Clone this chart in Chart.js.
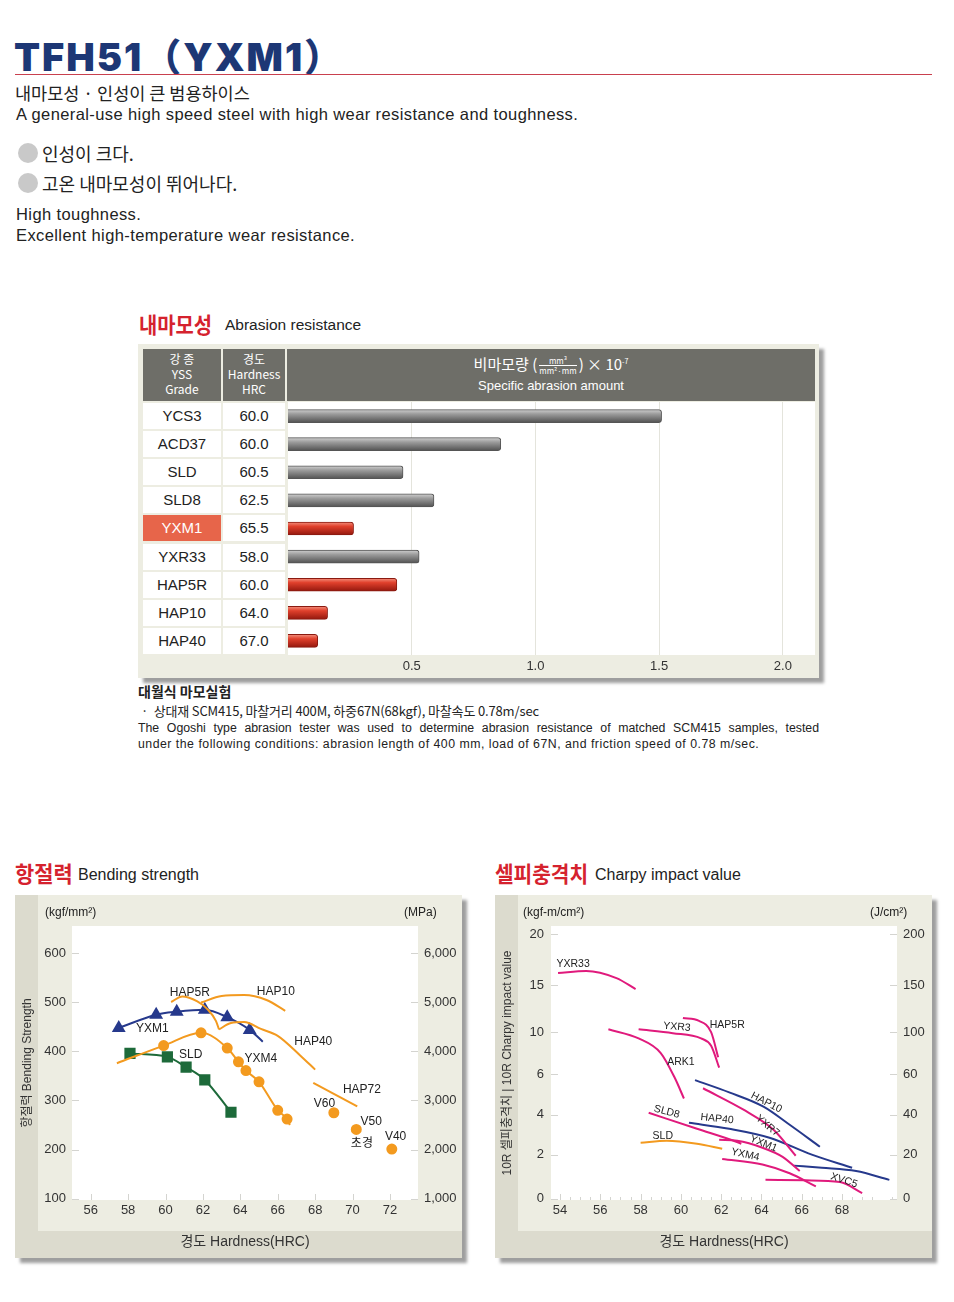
<!DOCTYPE html>
<html>
<head>
<meta charset="utf-8">
<script src="https://cdn.jsdelivr.net/npm/chart.js@4.4.1/dist/chart.umd.min.js"></script>
<style>
body{margin:0;background:#fff;width:954px;height:1302px;position:relative;overflow:hidden;
  font-family:"Liberation Sans",Arial,"Noto Sans CJK KR",sans-serif;color:#222}
.abs{position:absolute;white-space:nowrap}
.kr{font-family:"Noto Sans CJK KR","Liberation Sans",sans-serif}
.red{color:#d5222e;font-weight:700}
.en{font-size:16.5px;letter-spacing:0.4px}
.box{position:absolute;background:#edede2;box-shadow:5px 5px 3px rgba(0,0,0,0.38)}
.cell{position:absolute;background:#fff;text-align:center;font-size:15px;line-height:26px;height:26px}
.frac{display:inline-block;vertical-align:middle;font-size:8px;line-height:9px;text-align:center;margin:0 2px}
.frac span{display:block}
.frac span:first-child{border-bottom:1px solid #fff}
.bullet{position:absolute;width:20px;height:20px;border-radius:50%;background:#c9c9c9}
</style>
</head>
<body>

<div class="abs" style="left:14px;top:27px;font-family:Inter,'Noto Sans CJK KR',sans-serif;font-weight:900;font-size:38px;color:#1d3775;letter-spacing:2px">TFH51（YXM1）</div>
<div class="abs" style="left:15px;top:74px;width:917px;height:1px;background:#c9404e"></div>
<div class="abs kr" style="left:15px;top:80px;font-size:17.5px">내마모성 · 인성이 큰 범용하이스</div>
<div class="abs en" style="left:16px;top:105px">A general-use high speed steel with high wear resistance and toughness.</div>
<div class="bullet" style="left:18px;top:143px"></div>
<div class="abs kr" style="left:42px;top:140px;font-size:18px">인성이 크다.</div>
<div class="bullet" style="left:18px;top:173px"></div>
<div class="abs kr" style="left:42px;top:170px;font-size:18px">고온 내마모성이 뛰어나다.</div>
<div class="abs en" style="left:16px;top:205px">High toughness.</div>
<div class="abs en" style="left:16px;top:226px">Excellent high-temperature wear resistance.</div>

<!-- abrasion resistance -->
<div class="abs kr red" style="left:139px;top:307px;font-size:22px;transform:scaleX(0.9);transform-origin:left">내마모성</div>
<div class="abs" style="left:225px;top:316px;font-size:15.5px">Abrasion resistance</div>
<div class="box" style="left:138px;top:344px;width:681px;height:334px"></div>
<div class="abs" style="left:143px;top:349px;width:672px;height:52px;background:#6e6e68"></div>
<div class="abs" style="left:221px;top:349px;width:2px;height:52px;background:#edede2"></div>
<div class="abs" style="left:285px;top:349px;width:2px;height:52px;background:#edede2"></div>
<div class="abs kr" style="left:143px;top:351px;width:78px;text-align:center;color:#fff;font-size:12px;line-height:15px">강 종<br>YSS<br>Grade</div>
<div class="abs kr" style="left:223px;top:351px;width:62px;text-align:center;color:#fff;font-size:12px;line-height:15px">경도<br>Hardness<br>HRC</div>
<div class="abs kr" style="left:287px;top:353px;width:528px;text-align:center;color:#fff;font-size:15px">비마모량 (<span class="frac"><span>mm³</span><span>mm²·mm</span></span>) × 10<sup style="font-size:7px">-7</sup></div>
<div class="abs" style="left:287px;top:378px;width:528px;text-align:center;color:#fff;font-size:13px">Specific abrasion amount</div>
<div id="cells"></div>
<div class="abs" style="left:288px;top:402px;width:527px;height:273px"><canvas id="abr"></canvas></div>

<div class="abs kr" style="left:138px;top:681px;font-size:14px;font-weight:700">대월식 마모실험</div>
<div class="abs kr" style="left:141px;top:701px;font-size:13px;letter-spacing:-0.15px">·&nbsp; 상대재 SCM415, 마찰거리 400M, 하중67N(68kgf), 마찰속도 0.78m/sec</div>
<div class="abs" style="left:138px;top:721px;width:681px;font-size:12.3px;white-space:normal;text-align:justify;text-align-last:justify">The Ogoshi type abrasion tester was used to determine abrasion resistance of matched SCM415 samples, tested</div>
<div class="abs" style="left:138px;top:737px;font-size:12.3px;letter-spacing:0.5px">under the following conditions: abrasion length of 400 mm, load of 67N, and friction speed of 0.78 m/sec.</div>

<!-- bending strength -->
<div class="abs kr red" style="left:15px;top:856px;font-size:22px;transform:scaleX(0.95);transform-origin:left">항절력</div>
<div class="abs" style="left:78px;top:866px;font-size:16px">Bending strength</div>
<div class="box" style="left:15px;top:895px;width:447px;height:363px"></div>
<div class="abs" style="left:15px;top:895px;width:447px;height:363px"><canvas id="bend"></canvas></div>
<div class="abs" style="left:45px;top:905px;font-size:12px">(kgf/mm²)</div>
<div class="abs" style="left:404px;top:905px;font-size:12px">(MPa)</div>

<!-- charpy impact value -->
<div class="abs kr red" style="left:495px;top:856px;font-size:22px;transform:scaleX(0.92);transform-origin:left">셀피충격치</div>
<div class="abs" style="left:595px;top:866px;font-size:16px">Charpy impact value</div>
<div class="box" style="left:495px;top:895px;width:437px;height:363px"></div>
<div class="abs" style="left:495px;top:895px;width:437px;height:363px"><canvas id="charpy"></canvas></div>
<div class="abs" style="left:523px;top:905px;font-size:12px">(kgf-m/cm²)</div>
<div class="abs" style="left:870px;top:905px;font-size:12px">(J/cm²)</div>

<script>
// ---- abrasion resistance ----
const grades = ['YCS3', 'ACD37', 'SLD', 'SLD8', 'YXM1', 'YXR33', 'HAP5R', 'HAP10', 'HAP40'];
const hardnessHRC = ['60.0', '60.0', '60.5', '62.5', '65.5', '58.0', '60.0', '64.0', '67.0'];
const abrasion = [1.51, 0.86, 0.465, 0.59, 0.265, 0.53, 0.44, 0.16, 0.12];
const highlighted = ['YXM1', 'HAP5R', 'HAP10', 'HAP40'];
const abrasionTicks = [0.5, 1.0, 1.5, 2.0];

// ---- bending strength: [HRC, kgf/mm2] ----
const bendHrcTicks = [56, 58, 60, 62, 64, 66, 68, 70, 72];
const bendKgfTicks = [100, 200, 300, 400, 500, 600];
const bendYXM1 = [[57.5, 448], [59.5, 475], [60.6, 481], [62.1, 485], [63.3, 470], [64.5, 444], [65.2, 420]];
const bendSLD = [[58.1, 396], [60.1, 389], [61.1, 368], [62.1, 342], [63.5, 276]];
const bendYXM4 = [[57.4, 376], [59.9, 412], [61.9, 438], [63.3, 407], [63.9, 379], [64.3, 361], [65.0, 338], [66.0, 280], [66.5, 262], [66.65, 250]];
const bendHAP5R = [[60.3, 501], [60.9, 512], [61.7, 502], [62.25, 486], [62.7, 462], [62.86, 445]];
const bendHAP10 = [[61.9, 500], [63.0, 513], [64.2, 515], [65.4, 505], [66.4, 483]];
const bendHAP40 = [[62.86, 445], [63.5, 458], [64.2, 460], [65.1, 446], [66.0, 432], [67.2, 392], [68.0, 363]];
const bendHAP72 = [[67.9, 336], [70.25, 288]];
const bendCarbide = [[69.0, 275], [70.2, 241], [72.1, 201]];  // V60, V50, V40

// ---- charpy impact: [HRC, kgf-m/cm2] ----
const charpyHrcTicks = [54, 56, 58, 60, 62, 64, 66, 68];
const charpyKgfTicks = [0, 2, 4, 6, 10, 15, 20];
const charpyYXR33 = [[53.9, 16.2], [55.3, 16.4], [56.8, 15.7], [57.75, 14.6]];
const charpyHAP5R = [[60.1, 11.5], [60.9, 11.2], [61.5, 10.0], [61.85, 7.6]];
const charpyYXR3 = [[57.9, 10.3], [59.6, 9.9], [61.0, 9.4], [61.5, 8.7], [61.9, 6.6]];
const charpyARK1 = [[56.4, 10.3], [57.9, 9.4], [59.0, 8.0], [59.7, 5.8], [60.15, 4.8]];
const charpyHAP10 = [[60.7, 5.7], [62.4, 5.1], [64.1, 4.4], [65.4, 3.5], [66.9, 2.4]];
const charpyYXR7 = [[61.1, 5.3], [63.2, 4.2], [64.6, 3.25], [65.7, 1.95]];
const charpyHAP40 = [[60.4, 3.6], [62.4, 3.3], [64.4, 2.85], [66.5, 2.0], [68.5, 1.4]];
const charpySLD8 = [[58.4, 4.1], [60.8, 3.3], [62.75, 2.65], [63.0, 2.55]];
const charpyYXM1 = [[61.9, 2.75], [62.8, 2.7], [64.05, 2.35], [65.05, 1.9], [65.9, 1.25]];
const charpyYXM4 = [[62.05, 1.8], [64.05, 1.55], [65.4, 1.15], [66.7, 0.55]];
const charpySLD = [[58.0, 2.6], [59.3, 2.7], [60.8, 2.55], [62.05, 2.3]];
const charpyXVC5 = [[64.2, 0.85], [66.2, 0.83], [67.9, 0.75], [69.0, 0.25]];
const charpyOther = [[65.6, 1.5], [67.0, 1.4], [68.7, 1.25], [70.35, 0.85]];

Chart.defaults.font.family = '"Liberation Sans", Arial, "Noto Sans CJK KR", sans-serif';
Chart.defaults.color = '#333';

// table cells on the left of the bars
const cells = document.getElementById('cells');
grades.forEach((g, i) => {
	const top = 402 + 14.05 + i * 28.1 - 13;
	const hot = g === 'YXM1';
	cells.innerHTML += '<div class="cell" style="left:143px;top:' + top + 'px;width:78px;' +
		(hot ? 'background:#e7654a;color:#fff' : '') + '">' + g + '</div>' +
		'<div class="cell" style="left:223px;top:' + top + 'px;width:62px">' + hardnessHRC[i] + '</div>';
});

const whiteArea = {
	id: 'whiteArea',
	beforeDraw(chart) {
		const a = chart.chartArea;
		chart.ctx.save();
		chart.ctx.fillStyle = '#fff';
		chart.ctx.fillRect(a.left, a.top, a.right - a.left, a.bottom - a.top);
		chart.ctx.restore();
	}
};

function barFill(ctx) {
	const chart = ctx.chart;
	const hot = highlighted.includes(grades[ctx.dataIndex]);
	const y = chart.scales.y;
	const c = y ? y.getPixelForValue(ctx.dataIndex) : NaN;
	if (!isFinite(c)) return hot ? '#d3301f' : '#8a8a8a';
	const g = chart.ctx.createLinearGradient(0, c - 7, 0, c + 7);
	if (hot) {
		g.addColorStop(0, '#f59a88');
		g.addColorStop(0.35, '#e0402c');
		g.addColorStop(1, '#8e150c');
	} else {
		g.addColorStop(0, '#d6d6d6');
		g.addColorStop(0.35, '#9c9c9c');
		g.addColorStop(1, '#4e4e4e');
	}
	return g;
}

new Chart(document.getElementById('abr'), {
	type: 'bar',
	data: {
		labels: grades,
		datasets: [{
			data: abrasion,
			backgroundColor: barFill,
			borderColor: ctx => highlighted.includes(grades[ctx.dataIndex]) ? '#8a1a10' : '#555',
			borderWidth: 1,
			borderSkipped: 'start',
			borderRadius: 3,
			barThickness: 13
		}]
	},
	options: {
		indexAxis: 'y',
		responsive: true,
		maintainAspectRatio: false,
		animation: false,
		layout: { padding: 0 },
		plugins: { legend: { display: false }, tooltip: { enabled: false } },
		scales: {
			x: {
				min: 0, max: 2.13,
				afterBuildTicks: s => { s.ticks = abrasionTicks.map(v => ({ value: v })); },
				afterFit: s => { s.height = 20; },
				grid: { color: '#e4e4dc', drawTicks: false },
				border: { display: false },
				ticks: { padding: 4, font: { size: 13 }, color: '#333', callback: v => v.toFixed(1) }
			},
			y: { display: false }
		}
	},
	plugins: [whiteArea]
});

// ---- shared pieces for the two line charts ----
function frame(bottomStrip) {
	return {
		id: 'frame',
		beforeDraw(chart) {
			const { ctx, width, height, chartArea: a } = chart;
			ctx.save();
			ctx.fillStyle = '#edede2';
			ctx.fillRect(0, 0, width, height);
			ctx.fillStyle = '#dcdbce';
			ctx.fillRect(0, 0, 23, height);
			ctx.fillRect(23, bottomStrip, width - 23, height - bottomStrip);
			ctx.fillStyle = '#fff';
			ctx.fillRect(a.left, a.top, a.right - a.left, a.bottom - a.top);
			ctx.restore();
		}
	};
}

function innerTicks(xMajor, xMinor, yMajor) {
	return {
		id: 'innerTicks',
		beforeDatasetsDraw(chart) {
			const { ctx, chartArea: a, scales: { x, y } } = chart;
			ctx.save();
			ctx.strokeStyle = '#d4d4d0';
			ctx.lineWidth = 1;
			ctx.beginPath();
			yMajor.forEach(v => {
				const py = Math.round(y.getPixelForValue(v)) + 0.5;
				ctx.moveTo(a.left, py); ctx.lineTo(a.left + 7, py);
				ctx.moveTo(a.right - 7, py); ctx.lineTo(a.right, py);
			});
			xMajor.forEach(v => {
				const px = Math.round(x.getPixelForValue(v)) + 0.5;
				ctx.moveTo(px, a.bottom); ctx.lineTo(px, a.bottom - 6);
			});
			xMinor.forEach(v => {
				const px = Math.round(x.getPixelForValue(v)) + 0.5;
				ctx.moveTo(px, a.bottom); ctx.lineTo(px, a.bottom - 3);
			});
			ctx.stroke();
			ctx.restore();
		}
	};
}

function curveLabels(items, font) {
	return {
		id: 'curveLabels',
		afterDatasetsDraw(chart) {
			const { ctx, scales: { x, y } } = chart;
			ctx.save();
			ctx.fillStyle = '#222';
			ctx.font = font;
			ctx.textAlign = 'center';
			ctx.textBaseline = 'middle';
			items.forEach(([t, hx, v, deg]) => {
				ctx.save();
				ctx.translate(x.getPixelForValue(hx), y.getPixelForValue(v));
				ctx.rotate((deg || 0) * Math.PI / 180);
				ctx.fillText(t, 0, 0);
				ctx.restore();
			});
			ctx.restore();
		}
	};
}

const pts = arr => arr.map(([x, y]) => ({ x: x, y: y }));
const ORANGE = '#f39a1f', BLUE = '#26398c', GREEN = '#1d6a3a', PINK = '#e01a7c';
const noGrid = { display: false, drawTicks: false };

function curve(data, color, extra) {
	return Object.assign({
		data: data, borderColor: color, backgroundColor: color, borderWidth: 2,
		pointRadius: 0, cubicInterpolationMode: 'monotone', fill: false
	}, extra || {});
}

// ---- bending strength chart ----
new Chart(document.getElementById('bend'), {
	type: 'line',
	data: {
		datasets: [
			curve(pts(bendHAP5R), ORANGE),
			curve(pts(bendHAP10), ORANGE),
			curve(pts(bendHAP40), ORANGE),
			curve(pts(bendHAP72), ORANGE),
			curve(pts(bendYXM4), ORANGE, { pointStyle: 'circle', pointRadius: c => (c.dataIndex === 0 || c.dataIndex === bendYXM4.length - 1) ? 0 : 4.5 }),
			curve(pts(bendSLD), GREEN, { pointStyle: 'rect', pointRadius: 6.5 }),
			curve(pts(bendYXM1), BLUE, { pointStyle: 'triangle', pointRadius: c => c.dataIndex === bendYXM1.length - 1 ? 0 : 6 }),
			curve(pts(bendCarbide), ORANGE, { showLine: false, pointRadius: 4.5 })
		]
	},
	options: {
		responsive: true,
		maintainAspectRatio: false,
		animation: false,
		layout: { padding: { top: 31 } },
		plugins: { legend: { display: false }, tooltip: { enabled: false } },
		scales: {
			x: {
				type: 'linear', min: 55, max: 73.5,
				afterBuildTicks: s => { s.ticks = bendHrcTicks.map(v => ({ value: v })); },
				afterFit: s => { s.height = 58; },
				grid: noGrid, border: { display: false },
				ticks: { padding: 3, font: { size: 13 }, color: '#333' },
				title: { display: true, text: '경도 Hardness(HRC)', font: { size: 14 }, color: '#333', padding: { bottom: 7 } }
			},
			y: {
				min: 97, max: 656,
				afterBuildTicks: s => { s.ticks = bendKgfTicks.map(v => ({ value: v })); },
				afterFit: s => { s.width = 57; },
				grid: noGrid, border: { display: false },
				ticks: { padding: 6, font: { size: 13 }, color: '#333' },
				title: { display: true, text: '항절력 Bending Strength', font: { size: 12 }, color: '#333', padding: { top: 5 } }
			},
			y2: {
				position: 'right', min: 970, max: 6560,
				afterBuildTicks: s => { s.ticks = bendKgfTicks.map(v => ({ value: v * 10 })); },
				afterFit: s => { s.width = 44; },
				grid: noGrid, border: { display: false },
				ticks: { padding: 6, font: { size: 13 }, color: '#333', callback: v => v.toLocaleString('en-US') }
			}
		}
	},
	plugins: [
		frame(336),
		innerTicks(bendHrcTicks, [], bendKgfTicks),
		curveLabels([
			['HAP5R', 61.3, 520], ['HAP10', 65.9, 522], ['YXM1', 59.3, 447], ['HAP40', 67.9, 420],
			['SLD', 61.35, 394], ['YXM4', 65.1, 385], ['HAP72', 70.5, 322], ['V60', 68.5, 294],
			['V50', 71.0, 256], ['초경', 70.5, 211], ['V40', 72.3, 227]
		], '12px "Liberation Sans", Arial, "Noto Sans CJK KR", sans-serif')
	]
});

// ---- charpy chart: non-linear axis, breaks ----
const charpyAxisPos = [0, 44, 84, 125, 167, 214, 265];
function toPos(v) {
	for (let i = 1; i < charpyKgfTicks.length; i++) {
		if (v <= charpyKgfTicks[i]) {
			const a = charpyKgfTicks[i - 1], b = charpyKgfTicks[i];
			return charpyAxisPos[i - 1] + (v - a) / (b - a) * (charpyAxisPos[i] - charpyAxisPos[i - 1]);
		}
	}
	return charpyAxisPos[charpyAxisPos.length - 1];
}
const cpts = arr => arr.map(([x, y]) => ({ x: x, y: toPos(y) }));
const charpyMinor = [];
for (let h = 54; h <= 70.5; h += 0.5) if (h % 2 !== 0) charpyMinor.push(h);

new Chart(document.getElementById('charpy'), {
	type: 'line',
	data: {
		datasets: [
			curve(cpts(charpyYXR33), PINK),
			curve(cpts(charpyHAP5R), PINK),
			curve(cpts(charpyYXR3), PINK),
			curve(cpts(charpyARK1), PINK),
			curve(cpts(charpyYXR7), PINK),
			curve(cpts(charpySLD8), PINK),
			curve(cpts(charpyYXM1), PINK),
			curve(cpts(charpyYXM4), PINK),
			curve(cpts(charpyXVC5), PINK),
			curve(cpts(charpySLD), ORANGE),
			curve(cpts(charpyHAP10), BLUE),
			curve(cpts(charpyHAP40), BLUE),
			curve(cpts(charpyOther), BLUE)
		]
	},
	options: {
		responsive: true,
		maintainAspectRatio: false,
		animation: false,
		layout: { padding: { top: 31 } },
		plugins: { legend: { display: false }, tooltip: { enabled: false } },
		scales: {
			x: {
				type: 'linear', min: 53.55, max: 70.73,
				afterBuildTicks: s => { s.ticks = charpyHrcTicks.map(v => ({ value: v })); },
				afterFit: s => { s.height = 58; },
				grid: noGrid, border: { display: false },
				ticks: { padding: 3, font: { size: 13 }, color: '#333' },
				title: { display: true, text: '경도 Hardness(HRC)', font: { size: 14 }, color: '#333', padding: { bottom: 7 } }
			},
			y: {
				min: -1.5, max: 273.5,
				afterBuildTicks: s => { s.ticks = charpyKgfTicks.map(v => ({ value: toPos(v) })); },
				afterFit: s => { s.width = 56; },
				grid: noGrid, border: { display: false },
				ticks: { padding: 7, font: { size: 13 }, color: '#333', callback: (v, i) => charpyKgfTicks[i] },
				title: { display: true, text: '10R 셀피충격치 | 10R Charpy impact value', font: { size: 12 }, color: '#333', padding: { top: 5 } }
			},
			y2: {
				position: 'right', min: -1.5, max: 273.5,
				afterBuildTicks: s => { s.ticks = charpyKgfTicks.map(v => ({ value: toPos(v) })); },
				afterFit: s => { s.width = 35; },
				grid: noGrid, border: { display: false },
				ticks: { padding: 6, font: { size: 13 }, color: '#333', callback: (v, i) => charpyKgfTicks[i] * 10 }
			}
		}
	},
	plugins: [
		frame(336),
		innerTicks(charpyHrcTicks, charpyMinor, charpyKgfTicks.map(toPos)),
		curveLabels([
			['YXR33', 54.65, toPos(17.1), 0], ['YXR3', 59.8, toPos(10.55), 5], ['HAP5R', 62.3, toPos(10.75), 0],
			['ARK1', 60.0, toPos(7.15), 0], ['HAP10', 64.25, toPos(4.6), 27], ['YXR7', 64.3, toPos(3.45), 40],
			['SLD8', 59.3, toPos(4.15), 15], ['HAP40', 61.8, toPos(3.8), 6], ['SLD', 59.1, toPos(2.95), 0],
			['YXM1', 64.1, toPos(2.55), 22], ['YXM4', 63.2, toPos(2.0), 12], ['XVC5', 68.1, toPos(0.82), 18]
		], '10.5px "Liberation Sans", Arial, sans-serif')
	]
});
</script>
</body>
</html>
